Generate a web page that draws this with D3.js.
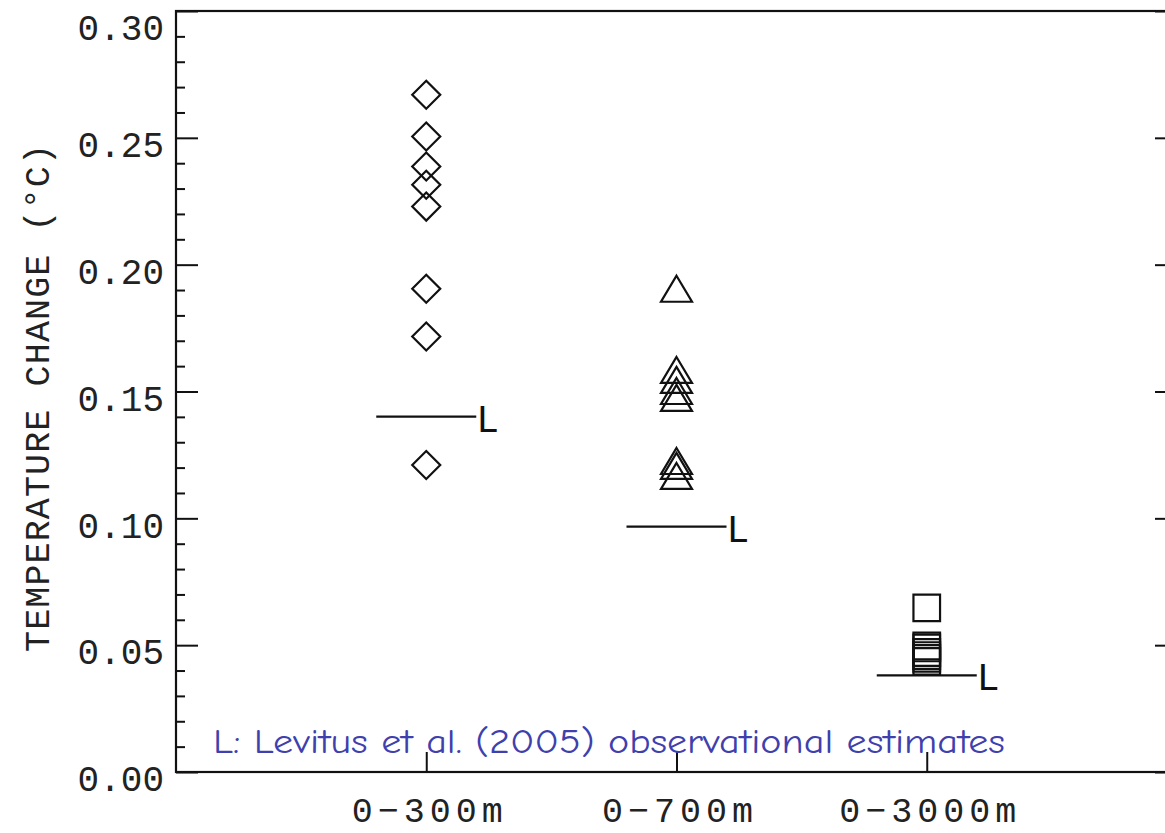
<!DOCTYPE html>
<html>
<head>
<meta charset="utf-8">
<script src="https://cdn.jsdelivr.net/npm/d3@7"></script>
<style>
  body { margin: 0; background: #fff; }
  svg { display: block; }
  .tick text { font-family: "Liberation Mono", monospace; font-size: 36px; fill: #222; }
  .tick line { stroke: #111; stroke-width: 2; }
  .frame { fill: none; stroke: #111; stroke-width: 2.2; }
  .ytitle { font-family: "Liberation Mono", monospace; font-size: 35px; fill: #222; }
  .lmark { font-family: "Liberation Mono", monospace; font-size: 38px; fill: #111; }
  .note { font-family: "Comic Sans MS", "Comic Neue", "Noto Sans", sans-serif; font-size: 34px; fill: #3f3fae; }
</style>
</head>
<body>
<svg id="chart" width="1165" height="833"></svg>
<script>
const categories = ["0\u2212300m", "0\u2212700m", "0\u22123000m"];
const yTicks = [0.00, 0.05, 0.10, 0.15, 0.20, 0.25, 0.30];

// model estimates per depth layer
const layer300 = [0.267, 0.2505, 0.2387, 0.2315, 0.2229, 0.1905, 0.1717, 0.1210];
const layer700 = [0.1905, 0.1585, 0.1546, 0.1502, 0.1475, 0.1226, 0.1207, 0.1167];
const layer3000 = [0.0647, 0.0497, 0.0489, 0.0471, 0.0459, 0.0448, 0.0436];

// Levitus et al. (2005) observational estimates
const levitus = [0.1401, 0.0967, 0.0381];

const svg = d3.select("#chart");

const x = d3.scaleLinear().domain([0, 4]).range([176, 1177]);
const y = d3.scaleLinear().domain([0, 0.30]).range([772, 11]);

const minorTicks = d3.range(0, 0.3001, 0.01).filter(v => Math.round(v * 100) % 5 !== 0);

// left axis, ticks pointing inward
svg.append("g")
  .attr("transform", `translate(${x(0)},0)`)
  .call(d3.axisLeft(y).tickValues(minorTicks).tickSize(-9).tickFormat(""))
  .call(g => g.select(".domain").remove());

svg.append("g")
  .attr("transform", `translate(${x(0)},0)`)
  .call(d3.axisLeft(y).tickValues(yTicks).tickSize(-22).tickPadding(12).tickFormat(d3.format(".2f")))
  .call(g => g.select(".domain").remove())
  .call(g => g.selectAll("text").attr("dy", d => d >= 0.3 ? "0.78em" : "0.52em"));

// right axis
svg.append("g")
  .attr("transform", `translate(${x(4)},0)`)
  .call(d3.axisLeft(y).tickValues(minorTicks).tickSize(9).tickFormat(""))
  .call(g => g.select(".domain").remove());

svg.append("g")
  .attr("transform", `translate(${x(4)},0)`)
  .call(d3.axisLeft(y).tickValues(yTicks).tickSize(22).tickFormat(""))
  .call(g => g.select(".domain").remove());

// bottom axis
svg.append("g")
  .attr("transform", `translate(0,${y(0)})`)
  .call(d3.axisBottom(x).tickValues([1, 2, 3]).tickSize(-20).tickFormat((d, i) => categories[i]))
  .call(g => g.select(".domain").remove())
  .call(g => g.selectAll("text")
    .attr("y", 50).attr("dy", 0).attr("dx", 3)
    .style("font-size", "35px")
    .style("letter-spacing", "5px"));

svg.append("rect")
  .attr("class", "frame")
  .attr("x", x(0)).attr("y", y(0.30))
  .attr("width", x(4) - x(0)).attr("height", y(0) - y(0.30));

// axis title
svg.append("text")
  .attr("class", "ytitle")
  .attr("transform", `translate(49,398) rotate(-90)`)
  .attr("text-anchor", "middle")
  .attr("textLength", 508)
  .attr("lengthAdjust", "spacing")
  .text("TEMPERATURE CHANGE (\u00B0C)");

const diamond = (cx, cy) => `M${cx},${cy - 14}L${cx + 14},${cy}L${cx},${cy + 14}L${cx - 14},${cy}Z`;
const triangle = (cx, cy) => `M${cx},${cy - 13}L${cx + 15.5},${cy + 13}L${cx - 15.5},${cy + 13}Z`;
const square = (cx, cy) => `M${cx - 13.3},${cy - 13.3}h26.6v26.6h-26.6Z`;

const groups = [
  { values: layer300, shape: diamond, cat: 1 },
  { values: layer700, shape: triangle, cat: 2 },
  { values: layer3000, shape: square, cat: 3 }
];

groups.forEach(gr => {
  svg.append("g").selectAll("path")
    .data(gr.values)
    .enter()
    .append("path")
    .attr("d", d => gr.shape(x(gr.cat), y(d)))
    .attr("fill", "none")
    .attr("stroke", "#111")
    .attr("stroke-width", 2.2);
});

// observational lines with "L" marker
const obs = svg.append("g").selectAll("g")
  .data(levitus)
  .enter()
  .append("g");

obs.append("line")
  .attr("x1", (d, i) => x(i + 1) - 50)
  .attr("x2", (d, i) => x(i + 1) + 50)
  .attr("y1", d => y(d))
  .attr("y2", d => y(d))
  .attr("stroke", "#111")
  .attr("stroke-width", 2.2);

obs.append("text")
  .attr("class", "lmark")
  .attr("x", (d, i) => x(i + 1) + 50)
  .attr("y", d => y(d) + 15)
  .text("L");

svg.append("text")
  .attr("class", "note")
  .attr("x", 213)
  .attr("y", 753)
  .attr("textLength", 792)
  .attr("lengthAdjust", "spacingAndGlyphs")
  .text("L: Levitus et al. (2005) observational estimates");
</script>
</body>
</html>
